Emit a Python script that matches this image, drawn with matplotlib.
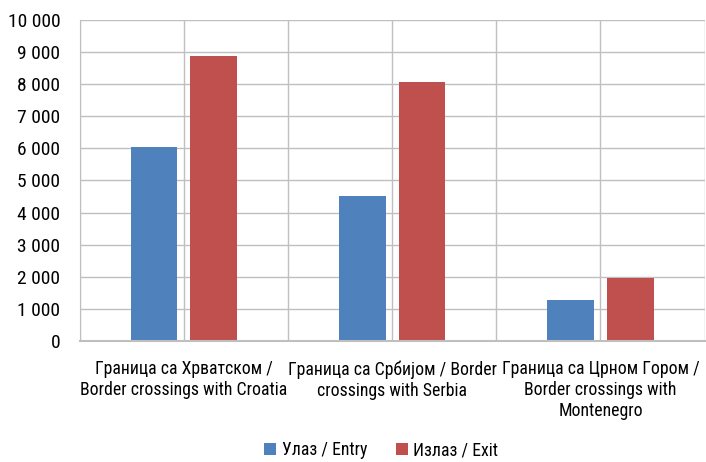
import matplotlib
matplotlib.use("Agg")
import matplotlib.pyplot as plt
import numpy as np

categories = ["Граница са Хрватском /\nBorder crossings with Croatia",
              "Граница са Србијом / Border\ncrossings with Serbia",
              "Граница са Црном Гором /\nBorder crossings with\nMontenegro"]
entry = [6050, 4520, 1280]
exit_ = [8870, 8070, 1960]
series_names = ["Улаз / Entry", "Излаз / Exit"]
yticks = list(range(0, 10001, 1000))

plt.rcParams['font.family'] = ['Roboto Condensed', 'DejaVu Sans']

fig = plt.figure(figsize=(7.06, 4.62), dpi=100)
ax = fig.add_axes([0.113, 0.262, 0.885, 0.695])

x = np.arange(len(categories))
w = 0.224
off = 0.143
ax.bar(x - off, entry, w, color="#4F81BD", label=series_names[0], zorder=3)
ax.bar(x + off, exit_, w, color="#C0504D", label=series_names[1], zorder=3)

ax.set_xlim(-0.5, 2.5)
ax.set_ylim(0, 10000)
ax.set_yticks(yticks)
ax.set_yticklabels([f"{v:,}".replace(",", " ") for v in yticks], fontsize=14)
ax.set_xticks(x)
ax.set_xticklabels(categories, fontsize=12.8, linespacing=1.2)
ax.tick_params(axis='both', length=0, colors="#000000")
ax.tick_params(axis='y', pad=14)
ax.tick_params(axis='x', pad=14)

for v in yticks[1:]:
    ax.axhline(v, color="#BFBFBF", lw=1, zorder=1)
for xv in np.arange(-0.5, 2.51, 0.5):
    ax.axvline(xv, color="#BFBFBF", lw=1, zorder=1)

for s in ["top", "right"]:
    ax.spines[s].set_visible(False)
ax.spines["left"].set_color("#BFBFBF")
ax.spines["bottom"].set_color("#BFBFBF")
ax.spines["bottom"].set_linewidth(1.5)
ax.spines["bottom"].set_zorder(4)

fig.legend(loc="center", bbox_to_anchor=(0.54, 0.025), ncol=2, frameon=False,
           fontsize=12.8, handlelength=0.7, handleheight=0.7, handletextpad=0.3,
           columnspacing=1.6)

fig.savefig("out.png", dpi=100)
